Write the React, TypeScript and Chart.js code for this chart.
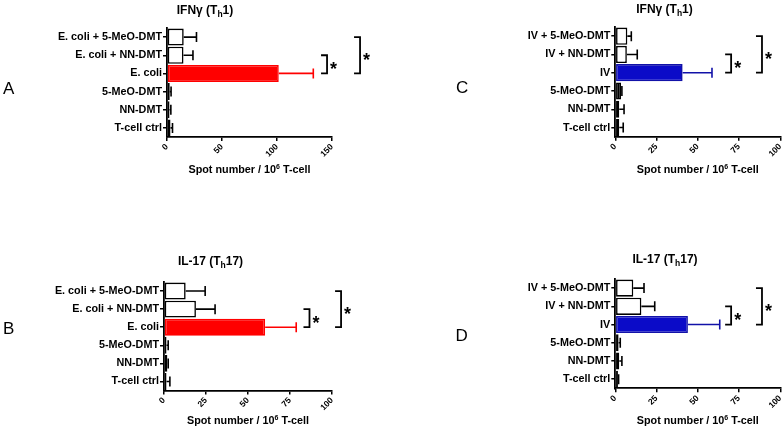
import React, { useEffect, useRef } from 'react';
import { Chart, registerables } from 'chart.js';

Chart.register(...registerables);

// ---------------- data ----------------
const ecoliCategories = ['E. coli + 5-MeO-DMT', 'E. coli + NN-DMT', 'E. coli', '5-MeO-DMT', 'NN-DMT', 'T-cell ctrl'];
const ivCategories = ['IV + 5-MeO-DMT', 'IV + NN-DMT', 'IV', '5-MeO-DMT', 'NN-DMT', 'T-cell ctrl'];

const ifngEcoliMean = [15.2, 15, 101.6, 2.5, 2.3, 3.2];
const ifngEcoliSem = [11.6, 8.6, 31.4, 1.2, 1.2, 1.8];
const il17EcoliMean = [12.9, 19, 60.2, 1.5, 2, 1.5];
const il17EcoliSem = [11.6, 11.4, 18.5, 1, 0.5, 2];
const ifngIvMean = [7.3, 7, 40.8, 3.5, 2.4, 2.4];
const ifngIvSem = [2.4, 6.3, 17.8, 0.5, 2.9, 2.4];
const il17IvMean = [10.9, 15.8, 44, 2, 2.4, 1.6];
const il17IvSem = [6.5, 8.1, 19.3, 1, 1.6, 0.4];

const xTicks150 = [0, 50, 100, 150];
const xTicks100 = [0, 25, 50, 75, 100];

// significance comparisons (category index pairs)
const sigPairs = [[1, 2], [0, 2]];
const sigLabels = ['*', '*'];

// ---------------- styles ----------------
const FONT = '"Liberation Sans", Arial, Helvetica, sans-serif';
const RED = '#ff0000';
const BLUE_FILL = '#0b0bc8';
const BLUE_LINE = '#1212a8';
const ecoliFill = ['#ffffff', '#ffffff', RED, '#000000', '#000000', '#000000'];
const ecoliLine = ['#000000', '#000000', RED, '#000000', '#000000', '#000000'];
const ivFill = ['#ffffff', '#ffffff', BLUE_FILL, '#000000', '#000000', '#000000'];
const ivLine = ['#000000', '#000000', BLUE_LINE, '#000000', '#000000', '#000000'];

type Part = [string, number, number];

const panels = [
  {
    key: 'A', ox: 0, oy: 0, w: 392, h: 215,
    area: { l: 167, t: 28, r: 332, b: 137 },
    cats: ecoliCategories, mean: ifngEcoliMean, sem: ifngEcoliSem, ticks: xTicks150,
    fill: ecoliFill, line: ecoliLine,
    title: [['IFNγ (T', 12, 0], ['h', 8.5, 3], ['1)', 12, 0]] as Part[],
    titlePos: { x: 205, y: 13.5 }, axisTitleY: 173,
    letter: { x: 3, y: 94 },
    bracketX: [145.5, 175.5],
  },
  {
    key: 'B', ox: 0, oy: 215, w: 392, h: 214,
    area: { l: 164, t: 282, r: 332, b: 390.5 },
    cats: ecoliCategories, mean: il17EcoliMean, sem: il17EcoliSem, ticks: xTicks100,
    fill: ecoliFill, line: ecoliLine,
    title: [['IL-17 (T', 12, 0], ['h', 8.5, 3], ['17)', 12, 0]] as Part[],
    titlePos: { x: 210.5, y: 264.5 }, axisTitleY: 424,
    letter: { x: 3, y: 334 },
    bracketX: [86.6, 105.4],
  },
  {
    key: 'C', ox: 392, oy: 0, w: 420, h: 215,
    area: { l: 615.3, t: 27, r: 780.3, b: 136.7 },
    cats: ivCategories, mean: ifngIvMean, sem: ifngIvSem, ticks: xTicks100,
    fill: ivFill, line: ivLine,
    title: [['IFNγ (T', 12, 0], ['h', 8.5, 3], ['1)', 12, 0]] as Part[],
    titlePos: { x: 664.5, y: 13 }, axisTitleY: 173,
    letter: { x: 456, y: 93 },
    bracketX: [70.2, 88.9],
  },
  {
    key: 'D', ox: 392, oy: 215, w: 420, h: 214,
    area: { l: 615.3, t: 279, r: 780.3, b: 388.3 },
    cats: ivCategories, mean: il17IvMean, sem: il17IvSem, ticks: xTicks100,
    fill: ivFill, line: ivLine,
    title: [['IL-17 (T', 12, 0], ['h', 8.5, 3], ['17)', 12, 0]] as Part[],
    titlePos: { x: 665, y: 262.5 }, axisTitleY: 424,
    letter: { x: 455.5, y: 341 },
    bracketX: [70.2, 88.9],
  },
];

function drawRich(ctx: CanvasRenderingContext2D, parts: Part[], cx: number, baseline: number) {
  let total = 0;
  const widths = parts.map(([t, s]) => {
    ctx.font = `bold ${s}px ${FONT}`;
    const w = ctx.measureText(t).width;
    total += w;
    return w;
  });
  let x = cx - total / 2;
  ctx.textAlign = 'left';
  ctx.textBaseline = 'alphabetic';
  parts.forEach(([t, s, dy], i) => {
    ctx.font = `bold ${s}px ${FONT}`;
    ctx.fillText(t, x, baseline + dy);
    x += widths[i];
  });
}

function PanelChart({ p }: { p: any }) {
  const ref = useRef<HTMLCanvasElement | null>(null);
  useEffect(() => {
    if (!ref.current) return;
    const errorBars = {
      id: 'errorBars',
      afterDatasetsDraw(chart: any) {
        const ctx = chart.ctx;
        const xs = chart.scales.x;
        const ys = chart.scales.y;
        ctx.save();
        ctx.lineWidth = 1.6;
        p.mean.forEach((m: number, i: number) => {
          const x0 = xs.getPixelForValue(m);
          const x1 = xs.getPixelForValue(m + p.sem[i]);
          const y = ys.getPixelForValue(i);
          ctx.strokeStyle = p.line[i];
          ctx.beginPath();
          ctx.moveTo(x0, y);
          ctx.lineTo(x1, y);
          ctx.moveTo(x1, y - 5);
          ctx.lineTo(x1, y + 5);
          ctx.stroke();
        });
        ctx.restore();
      },
    };
    const decorations = {
      id: 'decorations',
      afterDraw(chart: any) {
        const ctx = chart.ctx;
        const xs = chart.scales.x;
        const ys = chart.scales.y;
        const ca = chart.chartArea;
        ctx.save();
        ctx.fillStyle = '#000';
        // title
        drawRich(ctx, p.title, p.titlePos.x - p.ox, p.titlePos.y - p.oy);
        // axis title
        drawRich(
          ctx,
          [['Spot number / 10', 10.8, 0], ['6', 7, -4.5], [' T-cell', 10.8, 0]],
          (ca.left + ca.right) / 2,
          p.axisTitleY - p.oy
        );
        // panel letter
        ctx.font = `17px ${FONT}`;
        ctx.textAlign = 'left';
        ctx.textBaseline = 'alphabetic';
        ctx.fillText(p.key, p.letter.x - p.ox, p.letter.y - p.oy);
        // brackets
        ctx.strokeStyle = '#000';
        ctx.lineWidth = 1.8;
        sigPairs.forEach(([a, b], k) => {
          const x = xs.getPixelForValue(p.bracketX[k]);
          const y0 = ys.getPixelForValue(a);
          const y1 = ys.getPixelForValue(b);
          ctx.beginPath();
          ctx.moveTo(x - 6, y0);
          ctx.lineTo(x, y0);
          ctx.lineTo(x, y1);
          ctx.lineTo(x - 6, y1);
          ctx.stroke();
          ctx.font = `bold 18px ${FONT}`;
          const m = ctx.measureText(sigLabels[k]);
          const mid = (y0 + y1) / 2 + 1;
          const base = mid + (m.actualBoundingBoxAscent - m.actualBoundingBoxDescent) / 2;
          ctx.fillText(sigLabels[k], x + 3, base);
        });
        ctx.restore();
      },
    };
    const chart = new Chart(ref.current, {
      type: 'bar',
      data: {
        labels: p.cats,
        datasets: [
          {
            data: p.mean,
            backgroundColor: p.fill,
            borderColor: p.line,
            borderWidth: 1.6,
            borderSkipped: false,
            barPercentage: 0.94,
            categoryPercentage: 1,
          },
        ],
      },
      options: {
        indexAxis: 'y',
        animation: false,
        responsive: false,
        devicePixelRatio: 1,
        events: [],
        layout: {
          padding: {
            left: 0,
            top: p.area.t - p.oy,
            right: p.ox + p.w - p.area.r,
            bottom: 0,
          },
        },
        plugins: {
          legend: { display: false },
          tooltip: { enabled: false },
          title: { display: false },
        },
        scales: {
          y: {
            type: 'category',
            offset: true,
            grid: {
              display: true,
              drawOnChartArea: false,
              drawTicks: true,
              tickLength: 4,
              offset: false,
              color: '#000',
              lineWidth: 1.5,
            },
            border: { display: true, color: '#000', width: 1.8 },
            ticks: {
              color: '#000',
              autoSkip: false,
              padding: 1,
              font: { family: FONT, size: 10.8, weight: 'bold' },
            },
            afterFit: (s: any) => {
              s.width = p.area.l - p.ox;
            },
          },
          x: {
            type: 'linear',
            min: p.ticks[0],
            max: p.ticks[p.ticks.length - 1],
            afterBuildTicks: (s: any) => {
              s.ticks = p.ticks.map((v: number) => ({ value: v }));
            },
            ticks: {
              color: '#000',
              minRotation: 45,
              maxRotation: 45,
              padding: 1,
              autoSkip: false,
              font: { family: FONT, size: 8.5, weight: 'bold' },
            },
            grid: {
              display: true,
              drawOnChartArea: false,
              drawTicks: true,
              tickLength: 4,
              color: '#000',
              lineWidth: 1.5,
            },
            border: { display: true, color: '#000', width: 1.8 },
            afterFit: (s: any) => {
              s.height = p.oy + p.h - p.area.b;
            },
          },
        },
      } as any,
      plugins: [errorBars, decorations],
    });
    return () => chart.destroy();
  }, [p]);
  return (
    <canvas
      ref={ref}
      width={p.w}
      height={p.h}
      style={{ position: 'absolute', left: p.ox, top: p.oy, width: p.w, height: p.h }}
    />
  );
}

export default function App() {
  return (
    <div
      style={{
        position: 'fixed',
        left: 0,
        top: 0,
        width: 784,
        height: 429,
        overflow: 'hidden',
        background: '#ffffff',
      }}
    >
      {panels.map((p) => (
        <PanelChart key={p.key} p={p} />
      ))}
    </div>
  );
}
